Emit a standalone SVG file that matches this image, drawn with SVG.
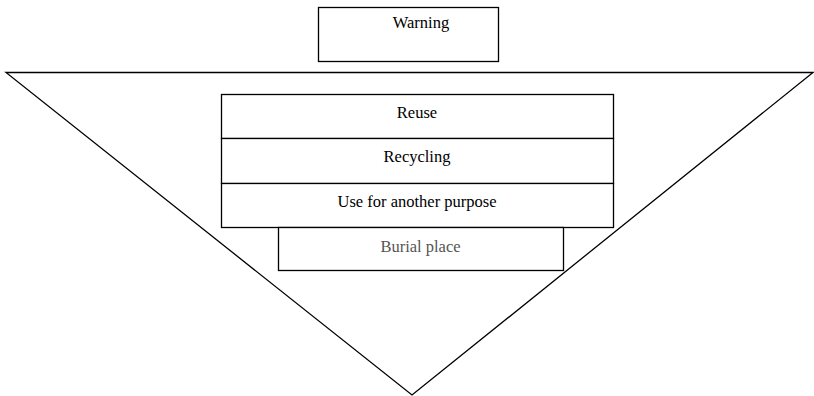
<svg xmlns="http://www.w3.org/2000/svg" width="814" height="396" viewBox="0 0 814 396">
<style>
.box{fill:#fff;stroke:#000;stroke-width:1.3}
.t{font-family:"Liberation Serif","Times New Roman",serif;font-size:16.5px;text-anchor:middle;fill:#000}
.g{fill:#555}
</style>
<rect width="814" height="396" fill="#fff"/>
<g id="triangle">
<polygon points="6,72.5 813,72.5 412,395" fill="none" stroke="#000" stroke-width="1.3"/>
</g>
<g id="warning">
<rect class="box" x="318.5" y="7.5" width="180" height="54"/>
<text class="t" x="421" y="28">Warning</text>
</g>
<g id="reuse">
<rect class="box" x="221.5" y="94.5" width="392" height="44"/>
<text class="t" x="417" y="117.5">Reuse</text>
</g>
<g id="recycling">
<rect class="box" x="221.5" y="138.5" width="392" height="45"/>
<text class="t" x="417" y="162">Recycling</text>
</g>
<g id="another">
<rect class="box" x="221.5" y="183.5" width="392" height="44"/>
<text class="t" x="417" y="206.5">Use for another purpose</text>
</g>
<g id="burial">
<rect class="box" x="278.5" y="227.5" width="285" height="43"/>
<text class="t g" x="420.5" y="251.5">Burial place</text>
</g>
<g id="connectors"></g>
</svg>
